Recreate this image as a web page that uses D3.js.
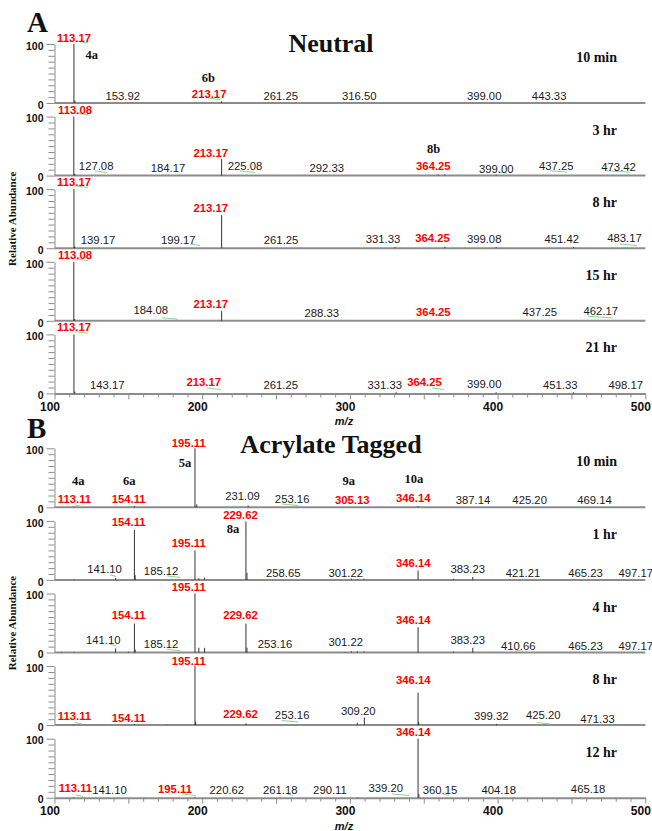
<!DOCTYPE html>
<html>
<head>
<meta charset="utf-8">
<script src="https://cdn.jsdelivr.net/npm/d3@7"></script>
<style>
  body { margin: 0; background: #fff; }
  svg { display: block; }
  .num { font-family: "Liberation Sans", Arial, sans-serif; font-size: 11.3px; fill: #1a1a1a; }
  .num.red { fill: #ff0000; font-weight: bold; }
  .tag { font-family: "Liberation Serif", "Times New Roman", serif; font-weight: bold; font-size: 12.5px; fill: #111; }
  .time { font-family: "Liberation Serif", "Times New Roman", serif; font-weight: bold; font-size: 14px; fill: #111; }
  .title { font-family: "Liberation Serif", "Times New Roman", serif; font-weight: bold; font-size: 26px; fill: #111; }
  .letter { font-family: "Liberation Serif", "Times New Roman", serif; font-weight: bold; font-size: 29px; fill: #111; }
  .ylab { font-family: "Liberation Serif", "Times New Roman", serif; font-weight: bold; font-size: 11px; fill: #111; }
  .axis text { font-family: "Liberation Sans", Arial, sans-serif; font-weight: bold; fill: #111; }
  .axis path, .axis line { stroke: #8c8c8c; }
  .mz { font-family: "Liberation Sans", Arial, sans-serif; font-weight: bold; font-style: italic; font-size: 11px; fill: #111; }
</style>
</head>
<body>
<div id="chart"></div>
<script>
const WIDTH = 652;
const HEIGHT = 831;

// x axis (m/z) tick labels
const mzTicks = [100, 200, 300, 400, 500];

// ---------- A: Neutral ----------
const neutralTimes = ["10 min", "3 hr", "8 hr", "15 hr", "21 hr"];

// peaks: [m/z, relative abundance]
const neutralPeaks = [
  [[113.17, 100], [113.8, 4], [213.17, 3]],
  [[113.08, 100], [113.7, 3], [213.17, 28], [359.7, 2], [364.25, 2], [399.0, 1.5]],
  [[113.17, 100], [113.7, 3], [213.17, 56], [330.5, 2], [364.25, 2.5], [399.0, 2], [451.4, 2]],
  [[113.08, 100], [113.7, 3], [213.17, 17]],
  [[113.17, 100], [113.7, 3], [331.3, 2], [399.0, 2], [451.3, 2]]
];

// peak labels: [text, m/z where label sits, abundance level of label baseline, red]
const neutralLabels = [
  [["113.17", 113.2, 104, 1], ["153.92", 146.2, 5, 0], ["213.17", 204.7, 8, 1], ["261.25", 253.2, 5, 0],
   ["316.50", 306.3, 5, 0], ["399.00", 390.9, 5, 0], ["443.33", 434.9, 5, 0]],
  [["113.08", 113.9, 104, 1], ["127.08", 128.2, 9.5, 0], ["184.17", 176.8, 5.6, 0], ["213.17", 205.8, 32, 1],
   ["225.08", 229.0, 9.5, 0], ["292.33", 284.3, 5.6, 0], ["364.25", 356.5, 9.5, 1], ["399.00", 399.1, 4.9, 0],
   ["437.25", 439.7, 9.5, 0], ["473.42", 481.9, 7.8, 0]],
  [["113.17", 113.2, 105, 1], ["139.17", 129.5, 7, 0], ["199.17", 183.8, 7, 0], ["213.17", 205.8, 62, 1],
   ["261.25", 253.4, 7, 0], ["331.33", 322.4, 9, 0], ["364.25", 355.9, 11, 1], ["399.08", 390.9, 9, 0],
   ["451.42", 443.4, 9, 0], ["483.17", 485.9, 10.5, 0]],
  [["113.08", 113.9, 104.7, 1], ["184.08", 165.2, 11.5, 0], ["213.17", 205.8, 21, 1], ["288.33", 280.9, 6, 0],
   ["364.25", 356.5, 8, 1], ["437.25", 428.6, 8, 0], ["462.17", 469.9, 9.8, 0]],
  [["113.17", 113.2, 105.7, 1], ["143.17", 135.7, 7.5, 0], ["213.17", 201.0, 13, 1], ["261.25", 253.2, 7, 0],
   ["331.33", 323.6, 7.5, 0], ["364.25", 350.5, 12.5, 1], ["399.00", 390.9, 9.7, 0], ["451.33", 442.4, 7.5, 0],
   ["498.17", 486.8, 7.5, 0]]
];

// compound tags: [text, m/z, level]
const neutralTags = [
  [["4a", 125.2, 74.6], ["6b", 204.1, 36]],
  [["8b", 356.7, 38.8]],
  [], [], []
];

// faint green label strokes: [m/z from, m/z to, level]
const neutralGreen = [
  [[113.9, 122.7, 103], [203.9, 212.0, 6.8]],
  [[113.9, 122.7, 104], [127.4, 135.5, 6.1], [225.6, 235.7, 6.1], [400.3, 406.4, 4.9], [435.5, 447.0, 6.6], [472.7, 489.6, 6.6]],
  [[113.9, 122.7, 104], [191.7, 198.5, 5.4], [482.9, 494.4, 5.4]],
  [[113.9, 122.7, 103], [172.8, 183.6, 3.6], [461.2, 478.1, 5.9]],
  [[113.9, 122.7, 103], [203.2, 212.7, 7.5], [355.6, 363.7, 7.5]]
];

// ---------- B: Acrylate Tagged ----------
const acrylateTimes = ["10 min", "1 hr", "4 hr", "8 hr", "12 hr"];

const acrylatePeaks = [
  [[113.11, 1], [154.11, 2], [195.11, 100], [196.3, 5], [231.1, 3], [346.14, 2]],
  [[113.1, 1], [141.4, 3], [154.11, 85], [154.6, 8], [195.11, 50], [197.7, 3], [201.6, 4], [229.62, 99],
   [230.3, 12], [301.0, 2], [305.0, 1.5], [309.5, 2], [346.14, 16], [370.0, 2], [383.2, 5]],
  [[104.8, 1], [113.1, 1], [141.4, 7], [150.0, 1.5], [154.11, 49], [154.6, 5], [195.11, 100], [197.7, 8],
   [201.6, 8], [229.62, 49], [230.3, 8], [297.0, 1], [301.0, 2], [305.0, 2], [309.5, 2], [346.14, 43],
   [370.0, 1.5], [383.2, 8]],
  [[113.1, 1], [154.11, 2], [176.0, 1], [195.11, 100], [195.6, 6], [229.62, 3], [305.0, 4], [309.8, 13],
   [346.14, 55], [346.6, 5], [399.3, 2]],
  [[113.1, 1], [195.11, 1.5], [305.0, 1], [346.14, 100], [346.7, 6]]
];

const acrylateLabels = [
  [["195.11", 190.9, 102.7, 1], ["113.11", 113.5, 7.8, 1], ["154.11", 150.2, 7.8, 1], ["231.09", 227.3, 12.4, 0],
   ["253.16", 260.9, 7.8, 0], ["305.13", 301.6, 5.6, 1], ["346.14", 342.9, 9.5, 1], ["387.14", 383.3, 5.6, 0],
   ["425.20", 421.7, 5.6, 0], ["469.14", 465.6, 5.6, 0]],
  [["154.11", 150.2, 91.5, 1], ["229.62", 225.9, 103, 1], ["195.11", 190.9, 55.4, 1], ["141.10", 133.9, 11.4, 0],
   ["185.12", 172.2, 8.5, 0], ["258.65", 254.9, 5.6, 0], ["301.22", 297.2, 5.6, 0], ["346.14", 342.9, 22.5, 1],
   ["383.23", 379.8, 11.4, 0], ["421.21", 417.2, 4.5, 0], ["465.23", 459.5, 4.5, 0], ["497.17", 493.5, 4.5, 0]],
  [["195.11", 190.9, 104, 1], ["154.11", 150.2, 56, 1], ["229.62", 225.9, 56, 1], ["141.10", 133.0, 14, 0],
   ["185.12", 172.2, 6.8, 0], ["253.16", 249.3, 6.8, 0], ["301.22", 297.2, 11, 0], ["346.14", 342.9, 49, 1],
   ["383.23", 379.8, 15, 0], ["410.66", 414.0, 4, 0], ["465.23", 459.5, 4, 0], ["497.17", 493.5, 4, 0]],
  [["195.11", 190.9, 101.7, 1], ["346.14", 342.9, 69.5, 1], ["113.11", 113.5, 8.5, 1], ["154.11", 150.2, 6, 1],
   ["229.62", 225.9, 11.9, 1], ["253.16", 260.9, 10, 0], ["309.20", 305.7, 17.5, 0], ["399.32", 395.7, 9, 0],
   ["425.20", 430.9, 10, 0], ["471.33", 467.6, 4.4, 0]],
  [["346.14", 342.9, 104.5, 1], ["113.11", 114.2, 9, 1], ["141.10", 137.2, 5.7, 0], ["195.11", 181.6, 8.5, 1],
   ["220.62", 216.7, 5.7, 0], ["261.18", 252.8, 5.7, 0], ["290.11", 286.5, 5.7, 0], ["339.20", 324.3, 10, 0],
   ["360.15", 361.0, 5.7, 0], ["404.18", 400.8, 5.7, 0], ["465.18", 461.3, 7.4, 0]]
];

const acrylateTags = [
  [["5a", 188.4, 68.8], ["4a", 116.1, 37.8], ["6a", 150.6, 37.8], ["9a", 299.3, 37.8], ["10a", 343.3, 40.7]],
  [["8a", 220.9, 80]],
  [], [], []
];

const acrylateGreen = [
  [[113.9, 118.6, 2.2], [254.0, 264.9, 3.9]],
  [[137.6, 141.6, 6.8], [176.2, 185.0, 5.1]],
  [[137.6, 141.6, 12.4], [176.2, 185.0, 3.9], [411.8, 417.2, 2.7]],
  [[113.9, 118.6, 2.7], [254.0, 264.9, 6.1], [426.7, 435.5, 2.7]],
  [[114.6, 119.3, 2.9], [186.3, 195.8, 4.6], [258.1, 261.5, 4.6], [328.5, 340.0, 4.6], [363.1, 367.1, 4.6]]
];

// ---------- layout ----------
const PANEL_H = 59;
const PANEL_STEP = 72.6;

const svg = d3.select("#chart")
  .append("svg")
  .attr("width", WIDTH)
  .attr("height", HEIGHT);

const x = d3.scaleLinear().domain([100, 500]).range([54.5, 645.3]);

function drawPanel(base, peaks, labels, tags, green, time, bottom) {
  const g = svg.append("g");
  const y = d3.scaleLinear().domain([0, 100]).range([base, base - PANEL_H]);

  // y axis with minor ticks every 10
  const yAxis = g.append("g")
    .attr("class", "axis")
    .attr("transform", "translate(" + x(100) + ",0)")
    .call(d3.axisLeft(y)
      .tickValues(d3.range(0, 101, 10))
      .tickSize(6)
      .tickSizeOuter(0)
      .tickFormat(d => (d === 0 || d === 100) ? d : ""));
  yAxis.selectAll(".tick line")
    .attr("x2", d => (d === 0 || d === 100) ? -8 : -6);
  yAxis.selectAll(".tick text")
    .attr("x", -11)
    .attr("dy", "0.5em")
    .style("font-size", "10.5px");

  // baseline / x axis
  if (bottom) {
    const xAxis = g.append("g")
      .attr("class", "axis")
      .attr("transform", "translate(0," + base + ")")
      .call(d3.axisBottom(x)
        .tickValues(d3.range(100, 501, 10))
        .tickSize(4)
        .tickSizeOuter(0)
        .tickFormat(d => mzTicks.includes(d) ? d : ""));
    xAxis.select(".domain").attr("stroke-width", 2);
    xAxis.selectAll(".tick line")
      .attr("y2", d => d % 50 === 0 ? 6 : 4);
    xAxis.selectAll(".tick text")
      .attr("x", -5)
      .attr("y", 9)
      .style("font-size", "12px");
  } else {
    g.append("line")
      .attr("x1", x(100)).attr("x2", x(500))
      .attr("y1", base).attr("y2", base)
      .attr("stroke", "#8c8c8c")
      .attr("stroke-width", 2);
  }

  // faint green strokes under some labels
  g.selectAll(".green")
    .data(green)
    .join("line")
    .attr("class", "green")
    .attr("x1", d => x(d[0])).attr("x2", d => x(d[1]))
    .attr("y1", d => y(d[2]) - 1).attr("y2", d => y(d[2]) + 0.5)
    .attr("stroke", "#8fd48f")
    .attr("stroke-width", 1);

  // peaks
  g.selectAll(".peak")
    .data(peaks)
    .join("line")
    .attr("class", "peak")
    .attr("x1", d => x(d[0])).attr("x2", d => x(d[0]))
    .attr("y1", y(0)).attr("y2", d => y(d[1]))
    .attr("stroke", "#333")
    .attr("stroke-width", 1);

  // peak labels
  g.selectAll(".num")
    .data(labels)
    .join("text")
    .attr("class", d => d[3] ? "num red" : "num")
    .attr("x", d => x(d[1]))
    .attr("y", d => y(d[2]))
    .attr("text-anchor", "middle")
    .text(d => d[0]);

  // compound tags
  g.selectAll(".tag")
    .data(tags)
    .join("text")
    .attr("class", "tag")
    .attr("x", d => x(d[1]))
    .attr("y", d => y(d[2]))
    .attr("text-anchor", "middle")
    .text(d => d[0]);

  // time stamp
  g.append("text")
    .attr("class", "time")
    .attr("x", 617)
    .attr("y", base - 41)
    .attr("text-anchor", "end")
    .text(time);
}

function drawBlock(firstBase, times, peaks, labels, tags, green, letter, letterY, title, titleY) {
  times.forEach((t, i) => {
    drawPanel(firstBase + i * PANEL_STEP, peaks[i], labels[i], tags[i], green[i], t, i === times.length - 1);
  });
  const lastBase = firstBase + (times.length - 1) * PANEL_STEP;

  svg.append("text").attr("class", "letter")
    .attr("x", 27).attr("y", letterY).text(letter);
  svg.append("text").attr("class", "title")
    .attr("x", 331).attr("y", titleY)
    .attr("text-anchor", "middle").text(title);

  const midY = (firstBase - PANEL_H + lastBase) / 2;
  svg.append("text").attr("class", "ylab")
    .attr("transform", "translate(16," + midY + ") rotate(-90)")
    .attr("text-anchor", "middle")
    .text("Relative Abundance");

  svg.append("text").attr("class", "mz")
    .attr("x", 344).attr("y", lastBase + 32)
    .attr("text-anchor", "middle").text("m/z");
}

drawBlock(103, neutralTimes, neutralPeaks, neutralLabels, neutralTags, neutralGreen, "A", 32, "Neutral", 52);
drawBlock(507.3, acrylateTimes, acrylatePeaks, acrylateLabels, acrylateTags, acrylateGreen, "B", 438, "Acrylate Tagged", 453);
</script>
</body>
</html>
